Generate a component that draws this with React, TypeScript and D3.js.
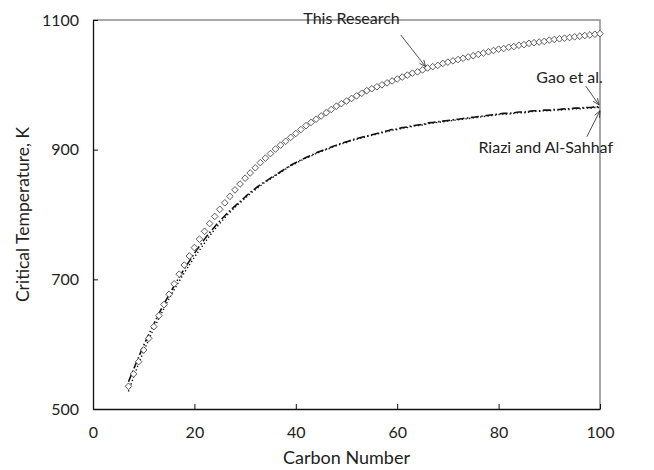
import React, { useEffect, useRef } from 'react';
import * as d3 from 'd3';

// carbon numbers 7..100
const carbonNumbers = [
  7, 8, 9, 10, 11, 12, 13, 14, 15, 16, 17, 18, 19, 20, 21, 22, 23, 24, 25, 26,
  27, 28, 29, 30, 31, 32, 33, 34, 35, 36, 37, 38, 39, 40, 41, 42, 43, 44, 45, 46,
  47, 48, 49, 50, 51, 52, 53, 54, 55, 56, 57, 58, 59, 60, 61, 62, 63, 64, 65, 66,
  67, 68, 69, 70, 71, 72, 73, 74, 75, 76, 77, 78, 79, 80, 81, 82, 83, 84, 85, 86,
  87, 88, 89, 90, 91, 92, 93, 94, 95, 96, 97, 98, 99, 100,
];

const thisResearch = [
  535, 554, 573, 591, 609, 627, 644, 661, 677, 693, 708, 722, 736, 749, 762, 774, 786, 797, 808, 818,
  828, 838, 847, 856, 864, 872, 880, 887, 894, 901, 907, 913, 919, 925, 931, 937, 942, 947, 952, 957,
  962, 967, 971, 975, 979, 983, 987, 991, 994, 997, 1000, 1003, 1006, 1009, 1012, 1015, 1018, 1020, 1023, 1026,
  1028, 1030, 1033, 1035, 1037, 1039, 1041, 1043, 1045, 1047, 1049, 1051, 1053, 1055, 1056, 1058, 1059, 1061, 1062, 1064,
  1065, 1066, 1067, 1069, 1070, 1071, 1072, 1073, 1074, 1075, 1076, 1077, 1078, 1079,
];

const gaoEtAl = [
  542, 561, 580, 598, 615, 631, 647, 662, 676, 690, 703, 716, 728, 740, 751, 762, 772, 781, 790, 798,
  806, 813, 820, 827, 834, 840, 846, 851, 856, 861, 866, 871, 876, 880, 884, 888, 891, 895, 898, 901,
  904, 907, 910, 912, 915, 917, 919, 921, 923, 925, 927, 929, 931, 932, 934, 935, 937, 938, 939, 941,
  942, 943, 944, 945, 946, 947, 948, 949, 950, 951, 952, 953, 954, 955, 956, 956, 957, 958, 958, 959,
  960, 960, 961, 961, 962, 962, 963, 963, 964, 964, 965, 965, 966, 966,
];

const riaziAlSahhaf = [
  527, 549, 570, 589, 607, 624, 640, 655, 670, 684, 697, 710, 722, 734, 745, 756, 767, 777, 786, 795,
  803, 811, 818, 825, 832, 838, 844, 850, 855, 860, 865, 870, 875, 879, 883, 887, 890, 894, 897, 900,
  903, 906, 909, 911, 914, 916, 918, 920, 922, 924, 926, 928, 930, 931, 933, 934, 936, 937, 938, 940,
  941, 942, 943, 944, 945, 946, 947, 948, 949, 950, 951, 952, 953, 954, 955, 955, 956, 957, 957, 958,
  959, 959, 960, 960, 961, 961, 962, 962, 963, 963, 964, 964, 965, 965,
];

const xTicks = [0, 20, 40, 60, 80, 100];
const yTicks = [500, 700, 900, 1100];

const width = 654;
const height = 470;
const margin = { left: 93, right: 54, top: 20, bottom: 61 };
const font = 'Lato, "Open Sans", sans-serif';

const CriticalTempChart = () => {
  const svgRef = useRef(null);

  useEffect(() => {
    const svg = d3.select(svgRef.current);
    svg.selectAll('*').remove();

    const x = d3.scaleLinear().domain([0, 100]).range([margin.left, width - margin.right]);
    const y = d3.scaleLinear().domain([500, 1100]).range([height - margin.bottom, margin.top]);

    const [x0, x1] = x.range();
    const [y0, y1] = y.range();

    svg.append('rect').attr('width', width).attr('height', height).attr('fill', '#fff');

    // top / right frame in grey
    svg.append('path')
      .attr('d', `M${x0},${y1}H${x1}V${y0}`)
      .attr('fill', 'none')
      .attr('stroke', '#8c8c8c')
      .attr('stroke-width', 1.5);

    // x axis, ticks pointing inward
    const xAxis = svg.append('g')
      .attr('transform', `translate(0,${y0})`)
      .call(d3.axisBottom(x).tickValues(xTicks).tickFormat(d3.format('d')).tickSizeInner(-5).tickSizeOuter(0).tickPadding(18));
    xAxis.select('.domain').attr('stroke', '#111').attr('stroke-width', 1.3);
    xAxis.selectAll('.tick line').attr('stroke', '#111');
    xAxis.selectAll('text').attr('font-family', font).attr('font-size', 16).attr('fill', '#222');

    const yAxis = svg.append('g')
      .attr('transform', `translate(${x0},0)`)
      .call(d3.axisLeft(y).tickValues(yTicks).tickFormat(d3.format('d')).tickSizeInner(-5).tickSizeOuter(0).tickPadding(14));
    yAxis.select('.domain').attr('stroke', '#111').attr('stroke-width', 1.3);
    yAxis.selectAll('.tick line').attr('stroke', '#111');
    yAxis.selectAll('text').attr('font-family', font).attr('font-size', 16).attr('fill', '#222');

    svg.append('text')
      .attr('x', (x0 + x1) / 2)
      .attr('y', 464)
      .attr('text-anchor', 'middle')
      .attr('font-family', font)
      .attr('font-size', 18)
      .attr('fill', '#222')
      .text('Carbon Number');

    svg.append('text')
      .attr('transform', `translate(29,${(y0 + y1) / 2}) rotate(-90)`)
      .attr('text-anchor', 'middle')
      .attr('font-family', font)
      .attr('font-size', 17.5)
      .attr('fill', '#222')
      .text('Critical Temperature, K');

    const line = d3.line()
      .x((d, i) => x(carbonNumbers[i]))
      .y(d => y(d))
      .curve(d3.curveMonotoneX);

    svg.append('path')
      .datum(gaoEtAl)
      .attr('d', line)
      .attr('fill', 'none')
      .attr('stroke', '#111')
      .attr('stroke-width', 1.6)
      .attr('stroke-dasharray', '8,2.5,1.5,2.5');

    svg.append('path')
      .datum(riaziAlSahhaf)
      .attr('d', line)
      .attr('fill', 'none')
      .attr('stroke', '#111')
      .attr('stroke-width', 1.4)
      .attr('stroke-dasharray', '1.3,2.4');

    const diamond = d3.symbol().type(d3.symbolDiamond2).size(28);
    svg.append('g')
      .selectAll('path')
      .data(thisResearch)
      .join('path')
      .attr('transform', (d, i) => `translate(${x(carbonNumbers[i])},${y(d)})`)
      .attr('d', diamond)
      .attr('fill', '#fff')
      .attr('stroke', '#333')
      .attr('stroke-width', 0.8);

    // annotations (data coords)
    const notes = [
      { text: 'This Research', tx: 51, ty: 1102, from: [60.7, 1077], to: [65.6, 1028] },
      { text: 'Gao et al.', tx: 94, ty: 1012, from: [97.2, 998], to: [99.8, 969] },
      { text: 'Riazi and Al-Sahhaf', tx: 89.3, ty: 903, from: [97.4, 920], to: [100, 960] },
    ];

    notes.forEach(n => {
      svg.append('text')
        .attr('x', x(n.tx))
        .attr('y', y(n.ty))
        .attr('dy', '0.35em')
        .attr('text-anchor', 'middle')
        .attr('font-family', font)
        .attr('font-size', 16)
        .attr('fill', '#222')
        .text(n.text);

      const fx = x(n.from[0]), fy = y(n.from[1]);
      const tx = x(n.to[0]), ty = y(n.to[1]);
      const ang = Math.atan2(ty - fy, tx - fx);
      const len = 7, spread = 0.4;
      svg.append('line')
        .attr('x1', fx).attr('y1', fy).attr('x2', tx).attr('y2', ty)
        .attr('stroke', '#222').attr('stroke-width', 0.8);
      svg.append('path')
        .attr('d', `M${tx - len * Math.cos(ang - spread)},${ty - len * Math.sin(ang - spread)}L${tx},${ty}L${tx - len * Math.cos(ang + spread)},${ty - len * Math.sin(ang + spread)}`)
        .attr('fill', 'none')
        .attr('stroke', '#222')
        .attr('stroke-width', 0.8);
    });
  }, []);

  return (
    <svg
      ref={svgRef}
      width={width}
      height={height}
      style={{ position: 'absolute', left: 0, top: 0 }}
    />
  );
};

export default function App() {
  return <CriticalTempChart />;
}
